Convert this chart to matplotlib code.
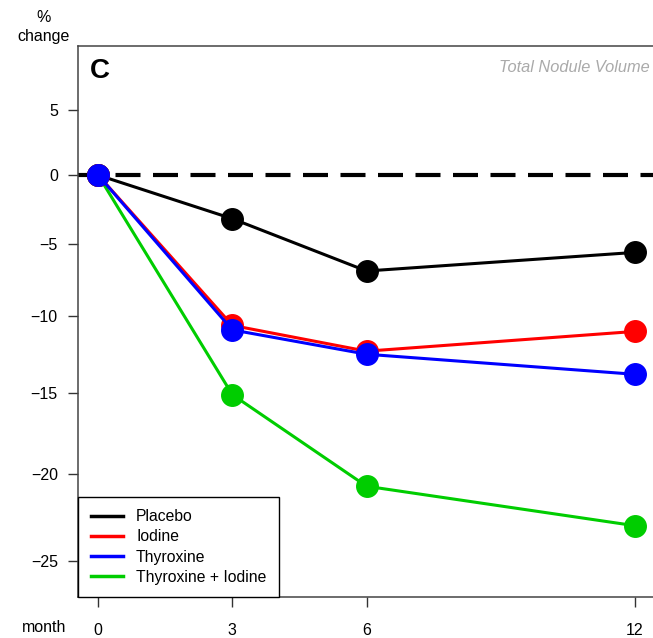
import matplotlib
matplotlib.use("Agg")
import matplotlib.pyplot as plt
from matplotlib.lines import Line2D
import numpy as np

plt.rcParams['font.family'] = ['Liberation Sans', 'DejaVu Sans']

# data
months = [0, 3, 6, 12]
groups = ["Placebo", "Iodine", "Thyroxine", "Thyroxine + Iodine"]
colors = ["black", "#ff0000", "#0000ff", "#00cd00"]
placebo = [0, -3.2, -6.9, -5.6]
iodine = [0, -10.6, -12.3, -11.0]
thyroxine = [0, -10.9, -12.5, -13.8]
thyr_iod = [0, -15.1, -20.7, -23.0]
yticks = [5, 0, -5, -10, -15, -20, -25]
xticks = [0, 3, 6, 12]

fig = plt.figure(figsize=(6.53, 6.38), dpi=100)
ax = fig.add_axes([0.1194, 0.0638, 0.886, 0.8641])

# y axis on log-ratio scale (percent change)
fwd = lambda y: np.log(1 + np.asarray(y) / 100.0)
inv = lambda t: (np.exp(np.asarray(t)) - 1) * 100.0
ax.set_yscale('function', functions=(fwd, inv))

ax.axhline(0, color='black', lw=3, linestyle=(0, (6, 3)), zorder=1)

# drawing order: thyroxine (blue) ends up on top
series = [placebo, iodine, thyroxine, thyr_iod]
zs = [3.1, 3.2, 3.4, 3.0]
for i in range(4):
    ax.plot(months, series[i], color=colors[i], lw=2.2, marker='o',
            markersize=15.5, zorder=zs[i])

leg_lines = [Line2D([], [], color=c, lw=2.5) for c in colors]
leg = ax.legend(leg_lines, groups, loc='lower left', bbox_to_anchor=(0, 0),
                borderaxespad=0, fancybox=False, edgecolor='black',
                fontsize=11.3, handlelength=2.1, handletextpad=0.8,
                labelspacing=0.33, borderpad=0.8, framealpha=1)
leg.get_frame().set_linewidth(1.0)
leg.set_zorder(10)

ax.set_xlim(-0.45, 12.48)
ax.set_ylim(-27.0, 10.1)
ax.set_xticks(xticks)
ax.set_xticklabels([str(m) for m in xticks])
ax.set_yticks(yticks)
ax.set_yticklabels([str(v).replace('-', '\u2212') for v in yticks])
ax.minorticks_off()
ax.tick_params(axis='both', direction='out', length=7.5, width=1,
               color='#333333', labelsize=11.5)
ax.tick_params(axis='y', pad=7)
ax.tick_params(axis='x', pad=11)
for s in ax.spines.values():
    s.set_color('#444444')
    s.set_linewidth(1.1)

ax.text(0.02, 0.955, "C", transform=ax.transAxes, fontsize=20,
        fontweight='bold', ha='left', va='center')
fig.text(650 / 653, 1 - 68 / 638, "Total Nodule Volume", ha='right',
         va='center', fontsize=11.8, style='italic', color='#aaaaaa')
fig.text(44 / 653, 1 - 27 / 638, "%\nchange", ha='center', va='center',
         fontsize=11.5, linespacing=1.25)
fig.text(44 / 653, 1 - 628 / 638, "month", ha='center', va='center',
         fontsize=11.5)

fig.savefig("out.png", dpi=100)
